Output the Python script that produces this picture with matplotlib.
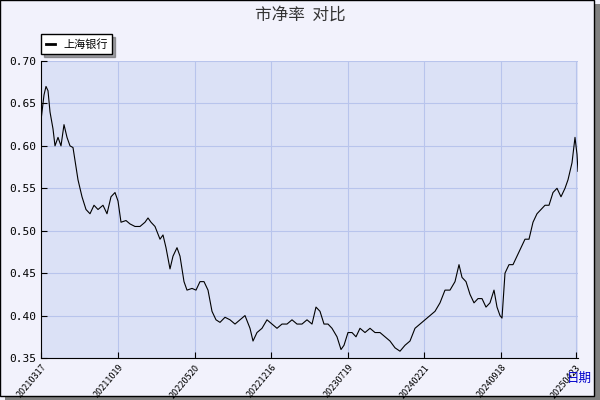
import matplotlib
matplotlib.use("Agg")
import matplotlib.pyplot as plt
from matplotlib.patches import Rectangle

plt.rcParams['font.family'] = ['Noto Sans CJK SC', 'DejaVu Sans']

px = [41,44,46,48,50,53,55,58,61,64,67,70,73,78,82,86,90,94,98,103,107,111,115,118,121,126,130,135,140,145,148,151,155,160,163,166,170,173,177,180,184,187,192,196,200,204,208,212,216,220,225,230,235,240,245,250,253,257,262,267,272,277,282,287,292,297,302,307,312,316,320,324,328,332,337,341,344,348,352,356,360,365,370,375,380,385,390,395,400,405,410,415,420,425,430,435,440,445,450,455,459,462,466,470,474,478,482,486,490,494,497,500,502,505,509,513,517,521,525,529,533,537,541,545,549,553,557,561,565,568,572,575,577,578]
pb = [0.63,0.66,0.67,0.665,0.64,0.62,0.60,0.61,0.60,0.625,0.61,0.60,0.598,0.56,0.54,0.525,0.52,0.53,0.525,0.53,0.52,0.54,0.545,0.535,0.51,0.512,0.508,0.505,0.505,0.51,0.515,0.51,0.505,0.49,0.495,0.48,0.455,0.47,0.48,0.47,0.44,0.43,0.432,0.43,0.44,0.44,0.43,0.405,0.395,0.392,0.398,0.395,0.39,0.395,0.40,0.385,0.37,0.38,0.385,0.395,0.39,0.385,0.39,0.39,0.395,0.39,0.39,0.395,0.39,0.41,0.405,0.39,0.39,0.385,0.375,0.36,0.365,0.38,0.38,0.375,0.385,0.38,0.385,0.38,0.38,0.375,0.37,0.362,0.358,0.365,0.37,0.385,0.39,0.395,0.40,0.405,0.415,0.43,0.43,0.44,0.46,0.445,0.44,0.425,0.415,0.42,0.42,0.41,0.415,0.43,0.41,0.40,0.397,0.45,0.46,0.46,0.47,0.48,0.49,0.49,0.51,0.52,0.525,0.53,0.53,0.545,0.55,0.54,0.55,0.56,0.58,0.61,0.59,0.57]
tick_pos = [41,118,195,271,348,424,501,576]
tick_labels = ['20210317','20211019','20220520','20221216','20230719','20240221','20240918','20250423']
yticks = [0.35,0.40,0.45,0.50,0.55,0.60,0.65,0.70]

fig = plt.figure(figsize=(6,4), dpi=100, facecolor='#f2f2fc')
fig.patches.append(Rectangle((0.008,0.0),0.992,0.99,transform=fig.transFigure,facecolor='#808080',edgecolor='none',zorder=-2))
fig.patches.append(Rectangle((0.0,0.01),0.99,0.99,transform=fig.transFigure,facecolor='#f2f2fc',edgecolor='black',lw=1,zorder=-1))
ax = fig.add_axes([41/600, 1-358/400, (578-41)/600, (358-61)/400])
ax.set_facecolor('#dbe1f6')
ax.plot(px, pb, color='black', lw=0.8, label='上海银行')
ax.set_xlim(41,578)
ax.set_ylim(0.35,0.70)
ax.set_yticks(yticks)
ax.set_yticklabels([f'{v:.2f}' for v in yticks], fontsize=8, family='DejaVu Sans Mono')
ax.set_xticks(tick_pos)
ax.set_xticklabels(tick_labels, rotation=50, fontsize=6.5, ha='right', rotation_mode='anchor')
ax.grid(True, color='#b8c4ec', lw=0.8)
for s in ['top','right']:
    ax.spines[s].set_visible(False)
ax.spines['left'].set_color('black')
ax.spines['bottom'].set_color('black')
ax.tick_params(axis='y', length=4, direction='in')
ax.tick_params(axis='x', length=4, direction='in')
fig.text(0.5, 0.963, '市净率  对比', ha='center', va='center', fontsize=12, color='#333333')
fig.text(0.965, 0.055, '日期', ha='center', va='center', fontsize=9, color='#0000cc')
leg = ax.legend(loc='lower left', bbox_to_anchor=(-0.01, 1.005), fontsize=8, frameon=True, fancybox=False, shadow=True, handlelength=0.8, borderpad=0.4)
leg.get_frame().set_edgecolor('black')
for l in leg.get_lines():
    l.set_linewidth(2)
fig.savefig('out.png', dpi=100, facecolor=fig.get_facecolor())
